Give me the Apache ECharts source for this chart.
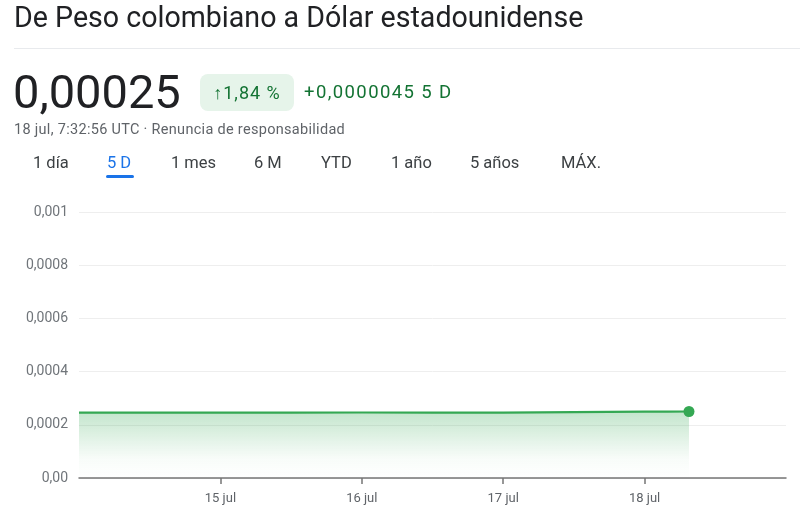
<!DOCTYPE html>
<html>
<head>
<meta charset="utf-8">
<script src="https://cdn.jsdelivr.net/npm/echarts@6/dist/echarts.min.js"></script>
<style>
  html, body { margin: 0; padding: 0; background: #fff; }
  body { width: 800px; height: 524px; position: relative; overflow: hidden; font-family: Roboto, Arial, sans-serif; }
  .abs { position: absolute; white-space: nowrap; }
  #title { left: 14px; top: 0px; font-size: 28.6px; color: #202124; }
  #sep { left: 14px; top: 48px; width: 786px; height: 1px; background: #e8eaed; }
  #price { left: 13px; top: 64px; font-size: 47px; color: #202124; line-height: 56px; }
  #badge { left: 200px; top: 74px; width: 94px; height: 37px; background: #e6f4ea; border-radius: 8px;
           color: #137333; font-size: 18px; letter-spacing: 1px; line-height: 37px; text-align: center; }
  #change { left: 304px; top: 74px; font-size: 18.5px; letter-spacing: 1.4px; line-height: 37px; color: #137333; }
  #stamp { left: 14px; top: 121px; font-size: 14.5px; letter-spacing: 0.3px; color: #5f6368; }
  .tab { top: 153px; font-size: 16.5px; color: #3c4043; }
  .tab.on { color: #1a73e8; }
  #underline { left: 106px; top: 175px; width: 28px; height: 3px; background: #1a73e8; border-radius: 2px; }
  #chart { position: absolute; left: 0; top: 0; width: 800px; height: 524px; }
</style>
</head>
<body>
<div id="chart"></div>
<div class="abs" id="title">De Peso colombiano a Dólar estadounidense</div>
<div class="abs" id="sep"></div>
<div class="abs" id="price">0,00025</div>
<div class="abs" id="badge">↑1,84 %</div>
<div class="abs" id="change">+0,0000045 5 D</div>
<div class="abs" id="stamp">18 jul, 7:32:56 UTC · Renuncia de responsabilidad</div>
<div id="tabs"></div>
<div class="abs" id="underline"></div>

<script>
// rangos de tiempo (pestañas)
const tabLabels = ['1 día', '5 D', '1 mes', '6 M', 'YTD', '1 año', '5 años', 'MÁX.'];
const tabLeft = [33, 107, 171, 254, 321, 391, 470, 561];

// datos del cambio COP -> USD (5 días)
const times = [
  '2024-07-14 00:00', '2024-07-14 12:00', '2024-07-15 00:00', '2024-07-15 12:00',
  '2024-07-16 00:00', '2024-07-16 12:00', '2024-07-17 00:00', '2024-07-17 12:00',
  '2024-07-18 00:00', '2024-07-18 04:00', '2024-07-18 07:32'
];
const values = [
  0.0002455, 0.0002458, 0.0002460, 0.0002461,
  0.0002462, 0.0002461, 0.0002460, 0.0002475,
  0.0002492, 0.0002498, 0.0002500
];
const dayTicks = ['2024-07-15 00:00', '2024-07-16 00:00', '2024-07-17 00:00', '2024-07-18 00:00'];
const dayLabels = ['15 jul', '16 jul', '17 jul', '18 jul'];

const tabsEl = document.getElementById('tabs');
tabLabels.forEach((t, i) => {
  const d = document.createElement('div');
  d.className = 'abs tab' + (t === '5 D' ? ' on' : '');
  d.style.left = tabLeft[i] + 'px';
  d.textContent = t;
  tabsEl.appendChild(d);
});

const toTs = s => new Date(s.replace(' ', 'T') + ':00Z').getTime();
const seriesData = times.map((t, i) => [toTs(t), values[i]]);
const tickTs = dayTicks.map(toTs);

const option = {
  animation: false,
  grid: { left: 79, right: 14, top: 212, bottom: 46, containLabel: false },
  xAxis: {
    type: 'value',
    min: toTs('2024-07-14 00:00'),
    max: toTs('2024-07-19 00:00'),
    axisLine: { show: true, onZero: false, lineStyle: { color: '#757575', width: 1.5 } },
    axisTick: {
      show: true,
      customValues: tickTs,
      length: 6,
      lineStyle: { color: '#757575', width: 1.5 }
    },
    axisLabel: {
      customValues: tickTs,
      color: '#5f6368',
      fontSize: 13,
      fontFamily: 'Roboto',
      margin: 14,
      formatter: function (v) {
        const i = tickTs.indexOf(v);
        return i >= 0 ? dayLabels[i] : '';
      }
    },
    splitLine: { show: false }
  },
  yAxis: {
    type: 'value',
    min: 0,
    max: 0.001,
    interval: 0.0002,
    axisLine: { show: false },
    axisTick: { show: false },
    axisLabel: {
      color: '#70757a',
      fontSize: 14,
      fontFamily: 'Roboto',
      margin: 11,
      formatter: function (v) {
        if (v === 0) return '0,00';
        return String(Number(v.toFixed(4))).replace('.', ',');
      }
    },
    splitLine: { show: true, lineStyle: { color: '#eeeeee', width: 1 } }
  },
  series: [
    {
      type: 'line',
      data: seriesData,
      smooth: false,
      showSymbol: true,
      symbol: 'circle',
      symbolSize: function (v, p) {
        return p.dataIndex === values.length - 1 ? 11 : 0;
      },
      itemStyle: { color: '#34a853' },
      lineStyle: { color: '#34a853', width: 2.2 },
      areaStyle: {
        color: {
          type: 'linear', x: 0, y: 0, x2: 0, y2: 1,
          colorStops: [
            { offset: 0, color: 'rgba(52,168,83,0.42)' },
            { offset: 0.7, color: 'rgba(52,168,83,0.05)' },
            { offset: 1, color: 'rgba(52,168,83,0)' }
          ]
        }
      }
    }
  ]
};

const chart = echarts.init(document.getElementById('chart'));
chart.setOption(option);
</script>
</body>
</html>
